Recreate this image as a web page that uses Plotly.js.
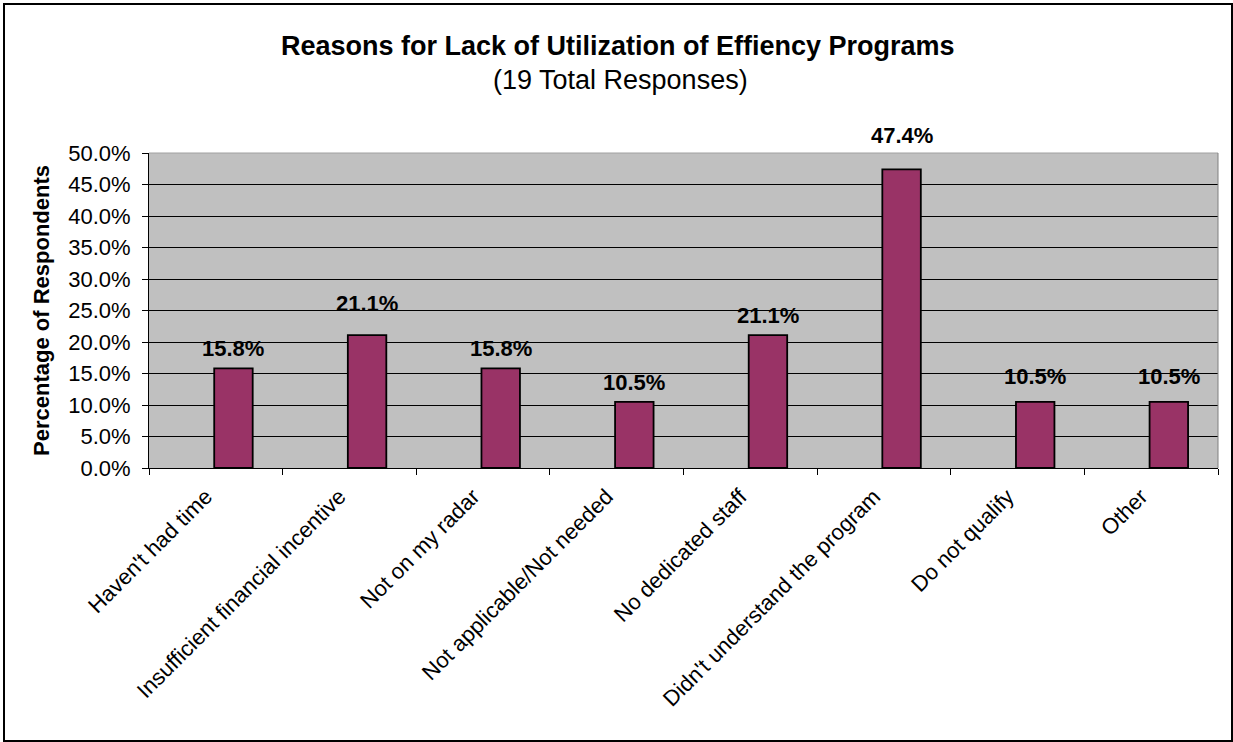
<!DOCTYPE html>
<html>
<head>
<meta charset="utf-8">
<script src="https://cdn.plot.ly/plotly-3.0.1.min.js"></script>
<style>
html,body{margin:0;padding:0;background:#fff;}
#wrap{position:relative;width:1233px;height:742px;}
#chart{position:absolute;left:0;top:0;width:1233px;height:742px;}
#frame{position:absolute;left:3px;top:3px;width:1226px;height:735px;border:2px solid #000;pointer-events:none;}
</style>
</head>
<body>
<div id="wrap"><div id="chart"></div><div id="frame"></div></div>
<script>
const categories = ["Haven't had time", "Insufficient financial incentive", "Not on my radar", "Not applicable/Not needed", "No dedicated staff", "Didn't understand the program", "Do not qualify", "Other"];
const values = [0.158, 0.211, 0.158, 0.105, 0.211, 0.474, 0.105, 0.105];
const valueLabels = ["15.8%", "21.1%", "15.8%", "10.5%", "21.1%", "47.4%", "10.5%", "10.5%"];
const titleText = "Reasons for Lack of Utilization of Effiency Programs";
const subtitleText = "(19 Total Responses)";
const yTitle = "Percentage of Respondents";

// styling: label lift above each bar (pixels)
const labelLift = [5, 17, 5, 5, 5, 19, 11, 11];

const FONT = "Liberation Sans, Arial, Helvetica, sans-serif";
const barWidth = 0.288;
const barOffset = -0.012;

const trace = {
  type: 'bar',
  x: categories,
  y: values,
  width: barWidth,
  offset: barOffset,
  marker: {color: '#993366', line: {color: '#000000', width: 1.8}},
  hoverinfo: 'none',
  cliponaxis: false
};

const annotations = categories.map((c, i) => ({
  x: c, y: values[i], xref: 'x', yref: 'y',
  text: '<b>' + valueLabels[i] + '</b>',
  showarrow: false, yanchor: 'bottom', xshift: (barOffset + barWidth / 2) * 1069 / 8, yshift: labelLift[i],
  font: {family: FONT, size: 22, color: '#000'}
}));
annotations.push({
  xref: 'paper', yref: 'paper', x: (618 - 149) / 1069, y: (468 - 46) / 315,
  text: '<b>' + titleText + '</b>', showarrow: false, xanchor: 'center', yanchor: 'middle',
  font: {family: FONT, size: 27, color: '#000'}
});
annotations.push({
  xref: 'paper', yref: 'paper', x: (620 - 149) / 1069, y: (468 - 80) / 315,
  text: subtitleText, showarrow: false, xanchor: 'center', yanchor: 'middle',
  font: {family: FONT, size: 27, color: '#000'}
});

const layout = {
  width: 1233, height: 742,
  margin: {l: 149, r: 15, t: 153, b: 274, pad: 0},
  paper_bgcolor: '#ffffff',
  plot_bgcolor: '#c0c0c0',
  showlegend: false,
  font: {family: FONT, size: 22, color: '#000'},
  xaxis: {
    type: 'category',
    tickangle: -45,
    tickson: 'boundaries',
    ticks: 'outside', ticklen: 6, tickcolor: '#000', tickwidth: 1,
    ticklabelshift: -10, ticklabelstandoff: 6,
    showline: true, linecolor: '#000', linewidth: 1,
    showgrid: false, zeroline: false,
    tickfont: {family: FONT, size: 22, color: '#000'},
    range: [-0.5, 7.5]
  },
  yaxis: {
    range: [0, 0.5],
    dtick: 0.05, tick0: 0,
    tickformat: '.1%',
    ticks: 'outside', ticklen: 6, tickcolor: '#000', tickwidth: 1,
    ticklabelstandoff: 7,
    showline: true, linecolor: '#000', linewidth: 1,
    showgrid: true, gridcolor: '#000', gridwidth: 1,
    zeroline: false,
    tickfont: {family: FONT, size: 22, color: '#000'},
    title: {text: '<b>' + yTitle + '</b>', font: {family: FONT, size: 22, color: '#000'}, standoff: 12}
  },
  shapes: [
    {type: 'line', xref: 'paper', yref: 'paper', x0: 0, x1: 1, y0: 1, y1: 1, line: {color: '#a0a0a0', width: 1}},
    {type: 'line', xref: 'paper', yref: 'paper', x0: 1, x1: 1, y0: 0, y1: 1, line: {color: '#808080', width: 1}}
  ],
  annotations: annotations
};

Plotly.newPlot('chart', [trace], layout, {displayModeBar: false, staticPlot: true});
</script>
</body>
</html>
